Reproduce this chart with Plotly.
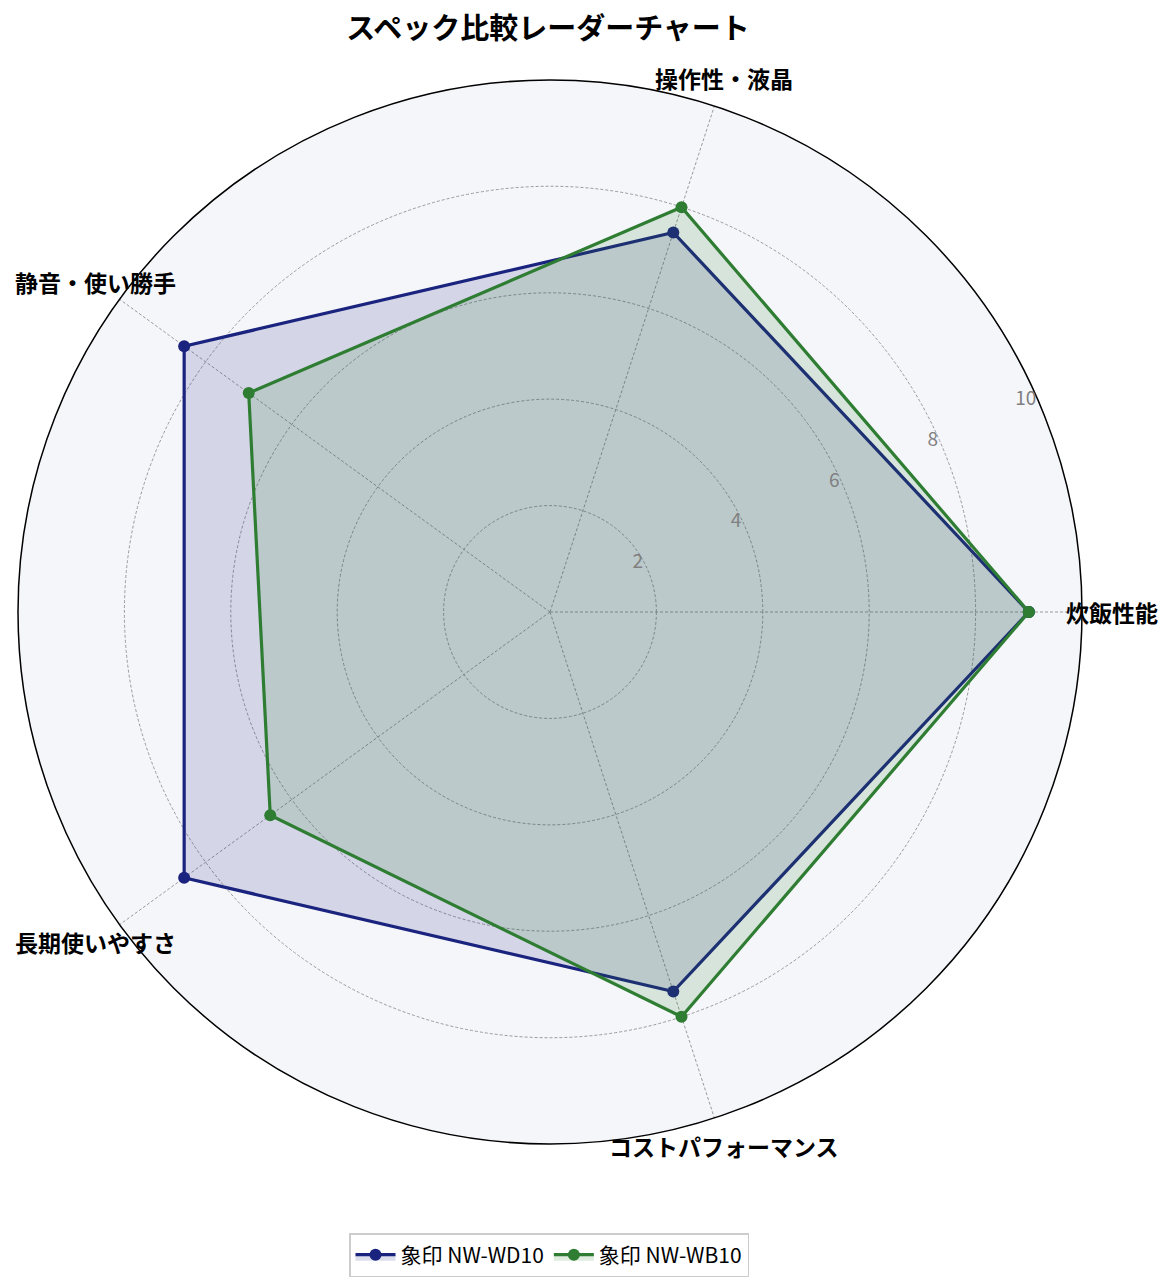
import math
import plotly.graph_objects as go

categories = ["炊飯性能", "操作性・液晶", "静音・使い勝手", "長期使いやすさ", "コストパフォーマンス"]
wd10 = [9.0, 7.5, 8.5, 8.5, 7.5]
wb10 = [9.0, 8.0, 7.0, 6.5, 8.0]
series_names = ["象印 NW-WD10", "象印 NW-WB10"]
radial_ticks = [2, 4, 6, 8, 10]

font_jp = "Noto Sans CJK JP"
W, H = 1172, 1288

fig = go.Figure()

styles = [("#1a237e", "rgba(26,35,126,0.15)"), ("#2e7d32", "rgba(46,125,50,0.15)")]
for name, vals, (line_c, fill_c) in zip(series_names, [wd10, wb10], styles):
    fig.add_trace(go.Scatterpolar(
        r=vals + vals[:1],
        theta=categories + categories[:1],
        mode="lines+markers",
        name=name,
        line=dict(color=line_c, width=3.2),
        marker=dict(color=line_c, size=12),
        fill="toself",
        fillcolor=fill_c,
    ))

# polar disc geometry in figure pixels (x from left, y from bottom)
cx, cy, rad = 542, 684, 532
label_rad = 562

# category labels centred on each spoke just outside the ring
annotations = []
for i, cat in enumerate(categories):
    th = 2 * math.pi * i / len(categories)
    annotations.append(dict(
        x=(cx + label_rad * math.cos(th)) / W,
        y=(cy + label_rad * math.sin(th)) / H,
        xref="paper", yref="paper",
        text="<b>%s</b>" % cat,
        showarrow=False,
        xanchor="center", yanchor="middle",
        font=dict(size=23, color="black", family=font_jp),
    ))

fig.update_layout(
    width=W,
    height=H,
    margin=dict(l=0, r=0, t=0, b=0, autoexpand=False),
    paper_bgcolor="white",
    font=dict(family=font_jp, color="black"),
    title=dict(text="<b>スペック比較レーダーチャート</b>", x=(548 - 8) / W, xanchor="center",
               y=1 - 21 / H, yanchor="middle", font=dict(size=29, color="black")),
    annotations=annotations,
    polar=dict(
        domain=dict(x=[(cx - rad) / W, (cx + rad) / W],
                    y=[(cy - rad) / H, (cy + rad) / H]),
        bgcolor="#f5f6fa",
        radialaxis=dict(
            range=[0, 10],
            tickvals=radial_ticks,
            angle=22.5,
            tickangle=22.5,
            side="counterclockwise",
            showline=False,
            ticks="",
            gridcolor="#9a9a9a",
            griddash="3px,2px",
            gridwidth=0.7,
            tickfont=dict(size=19, color="#808080"),
        ),
        angularaxis=dict(
            direction="counterclockwise",
            rotation=0,
            gridcolor="#9a9a9a",
            griddash="3px,2px",
            gridwidth=0.7,
            linecolor="black",
            linewidth=1.5,
            ticks="",
            showticklabels=False,
        ),
    ),
    legend=dict(
        orientation="h",
        x=(549 - 8) / W, xanchor="center",
        y=1 - 1247 / H, yanchor="middle",
        yref="container",
        bordercolor="#cccccc",
        borderwidth=1.5,
        itemwidth=40,
        font=dict(size=21, color="black"),
    ),
)

fig.write_html("out.html")
